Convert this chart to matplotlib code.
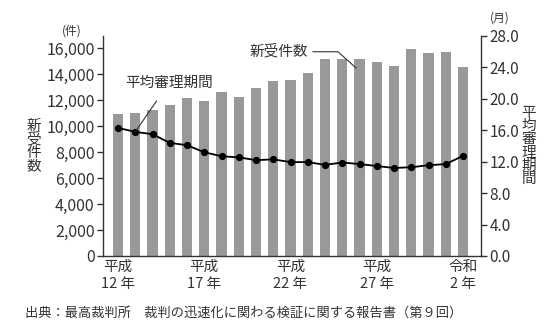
import matplotlib
matplotlib.use('Agg')
import matplotlib.pyplot as plt

plt.rcParams['font.family'] = ['Noto Sans CJK JP', 'DejaVu Sans']

# 平成12年 ~ 令和2年
years = list(range(2000, 2021))
new_cases = [10900, 11000, 11200, 11600, 12130, 11950, 12590, 12200, 12920, 13480,
             13540, 14050, 15180, 15130, 15180, 14920, 14620, 15950, 15620, 15690, 14560]
avg_months = [16.3, 15.8, 15.5, 14.4, 14.1, 13.2, 12.7, 12.55, 12.2, 12.3,
              11.95, 11.95, 11.6, 11.9, 11.7, 11.45, 11.2, 11.3, 11.55, 11.7, 12.75]
tick_idx = [0, 5, 10, 15, 20]
tick_labels = ['平成\n12 年', '平成\n17 年', '平成\n22 年', '平成\n27 年', '令和\n2 年']
left_ticks = list(range(0, 16001, 2000))
right_ticks = [0, 4, 8, 12, 16, 20, 24, 28]

text_color = '#333333'
bar_color = '#999999'

fig = plt.figure(figsize=(5.5, 3.25), dpi=100)
ax = fig.add_axes([103 / 550, 69 / 325, 378 / 550, 220 / 325])
ax2 = ax.twinx()

x = list(range(len(years)))
ax.bar(x, new_cases, width=0.6, color=bar_color, zorder=1)
ax2.plot(x, avg_months, color='black', linewidth=1.3, marker='o', markersize=4.2, zorder=3)

ax.set_xlim(-0.87, 21.04)
ax.set_ylim(0, 16920)
ax2.set_ylim(0, 28)

ax.set_yticks(left_ticks)
ax.set_yticklabels([f'{v:,}' for v in left_ticks], fontsize=11.5, color=text_color)
ax2.set_yticks(right_ticks)
ax2.set_yticklabels([f'{v:.1f}' for v in right_ticks], fontsize=11, color=text_color)
ax.set_xticks(tick_idx)
ax.set_xticklabels(tick_labels, fontsize=10.5, color=text_color, linespacing=1.25)

for a in (ax, ax2):
    a.spines['top'].set_visible(False)
    for s in a.spines.values():
        s.set_color('#333333')
        s.set_linewidth(1.0)
ax.spines['right'].set_visible(False)
ax2.spines['left'].set_visible(False)
ax2.spines['bottom'].set_visible(False)
ax.tick_params(axis='y', length=4, width=1, color='#333333', pad=2)
ax2.tick_params(axis='y', length=4, width=1, color='#333333', pad=2)
ax.tick_params(axis='x', length=0, pad=3)

# unit labels and axis titles
fig.text(72 / 550, 1 - 31 / 325, '(件)', fontsize=8.5, color=text_color, ha='center', va='center')
fig.text(500 / 550, 1 - 18 / 325, '(月)', fontsize=8.5, color=text_color, ha='center', va='center')
fig.text(34 / 550, 1 - 146 / 325, '新\n受\n件\n数', fontsize=10.5, color=text_color,
         ha='center', va='center', linespacing=0.92)
fig.text(529 / 550, 1 - 146 / 325, '平\n均\n審\n理\n期\n間', fontsize=10.5, color=text_color,
         ha='center', va='center', linespacing=0.92)

# annotation: 平均審理期間
ax2.annotate('平均審理期間', xy=(x[1], avg_months[1]), xytext=(2.95, 22.0),
             fontsize=10.5, color=text_color, ha='center', va='center',
             arrowprops=dict(arrowstyle='-', color='#333333', lw=0.8, shrinkA=7, shrinkB=0))

# annotation: 新受件数 (text + bent leader line)
ax.text(9.33, 15765, '新受件数', fontsize=10.5, color=text_color, ha='center', va='center')
ax.plot([11.3, 12.75, 13.8], [15710, 15710, 14460], color='#333333', lw=0.8, zorder=2)

fig.text(25 / 550, 1 - 313 / 325, '出典：最高裁判所　裁判の迅速化に関わる検証に関する報告書（第９回）',
         fontsize=9.5, color=text_color, ha='left', va='center')

fig.savefig('out.png', dpi=100)
